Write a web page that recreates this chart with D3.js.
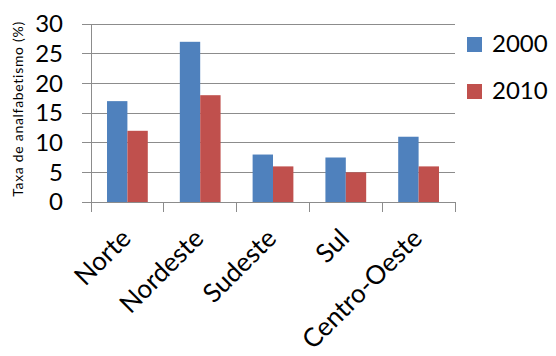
<!DOCTYPE html>
<html><head><meta charset="utf-8">
<script src="https://cdn.jsdelivr.net/npm/d3@7"></script>
<style>body{margin:0;background:#fff}svg{display:block}text{font-family:Lato,"Open Sans",sans-serif;fill:#000}</style>
</head><body><div id="c"></div>
<script>
const categories = ["Norte","Nordeste","Sudeste","Sul","Centro-Oeste"];
const seriesNames = ["2000","2010"];
const values2000 = [17,27,8,7.5,11];
const values2010 = [12,18,6,5,6];
const yTicks = [0,5,10,15,20,25,30];
const colors = ["#4F81BD","#C0504D"];
const yTitle = "Taxa de analfabetismo (%)";

const W=556,H=356;
const svg=d3.select("#c").append("svg").attr("width",W).attr("height",H);
const x=d3.scaleBand().domain(categories).range([91,455]).paddingInner(0.44).paddingOuter(0.22);
const xs=d3.scaleBand().domain(seriesNames).range([0,x.bandwidth()]);
const y=d3.scaleLinear().domain([0,30]).range([202,24]);

// gridlines
svg.append("g").selectAll("line").data(yTicks).join("line")
 .attr("x1",82).attr("x2",455).attr("y1",d=>y(d)).attr("y2",d=>y(d))
 .attr("stroke","#8c8c8c").attr("stroke-width",1).attr("shape-rendering","crispEdges");
// y axis line
svg.append("line").attr("x1",91).attr("x2",91).attr("y1",y(30)).attr("y2",y(0))
 .attr("stroke","#8c8c8c").attr("shape-rendering","crispEdges");

const data=categories.map((c,i)=>({c,v:[values2000[i],values2010[i]]}));
const g=svg.append("g").selectAll("g").data(data).join("g").attr("transform",d=>`translate(${x(d.c)},0)`);
g.selectAll("rect").data(d=>d.v.map((v,j)=>({v,s:seriesNames[j],j}))).join("rect")
 .attr("x",d=>xs(d.s)).attr("width",xs.bandwidth()).attr("y",d=>y(d.v)).attr("height",d=>y(0)-y(d.v))
 .attr("fill",d=>colors[d.j]);

// x axis
const xa=d3.axisBottom(x).tickSize(0).tickFormat("");
svg.append("g").attr("transform","translate(0,202)").call(xa).call(g=>g.select(".domain").attr("stroke","#8c8c8c").attr("shape-rendering","crispEdges"));
const bounds=d3.range(categories.length+1).map(i=>91+i*(364/categories.length));
svg.append("g").selectAll("line").data(bounds).join("line")
 .attr("x1",d=>d).attr("x2",d=>d).attr("y1",202).attr("y2",212)
 .attr("stroke","#8c8c8c").attr("shape-rendering","crispEdges");
svg.append("g").selectAll("text").data(categories).join("text")
 .attr("transform",d=>`translate(${x(d)+x.bandwidth()/2+5},240) rotate(-45)`)
 .attr("text-anchor","end").attr("font-size",26).text(d=>d);

// y labels
svg.append("g").selectAll("text").data(yTicks).join("text")
 .attr("x",63).attr("y",d=>y(d)).attr("dy","0.35em").attr("text-anchor","end").attr("font-size",24).text(d=>d);
svg.append("text").attr("transform","translate(23,109) rotate(-90)").attr("text-anchor","middle")
 .attr("font-size",14).attr("letter-spacing",0.7).attr("fill","#222").text(yTitle);

// legend
const lg=svg.append("g").selectAll("g").data(seriesNames).join("g").attr("transform",(d,i)=>`translate(467,${37+i*47})`);
lg.append("rect").attr("width",15).attr("height",15).attr("fill",(d,i)=>colors[i]);
lg.append("text").attr("x",25).attr("y",15).attr("font-size",24).text(d=>d);
</script></body></html>
